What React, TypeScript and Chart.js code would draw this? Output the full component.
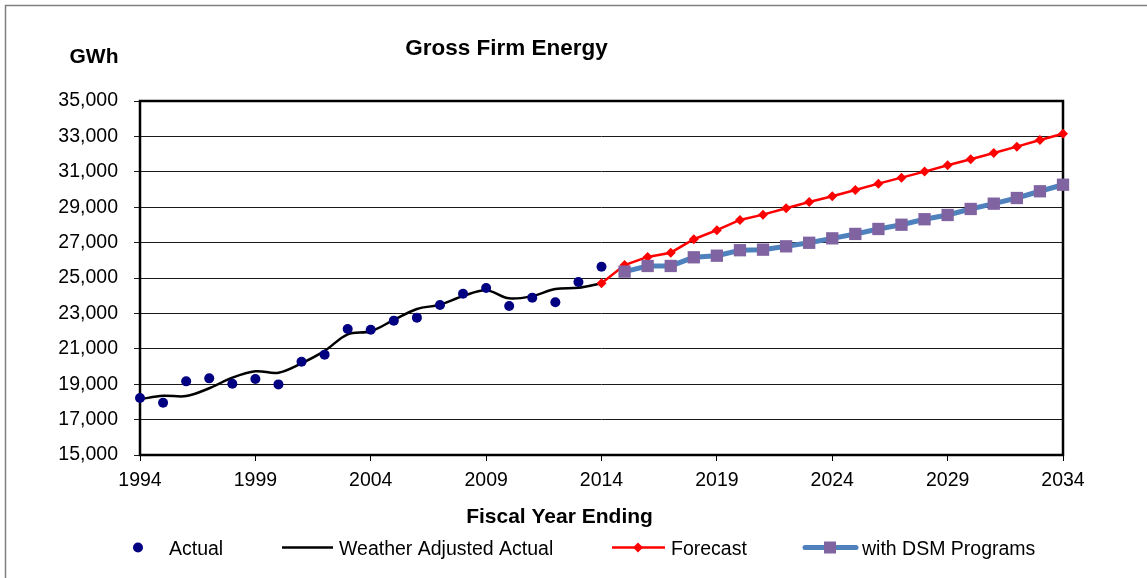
import React, { useEffect, useRef } from 'react';
import { Chart, registerables } from 'chart.js';

Chart.register(...registerables);

const chartTitle = 'Gross Firm Energy';
const yAxisUnit = 'GWh';
const xAxisTitle = 'Fiscal Year Ending';

const xTickValues = [1994, 1999, 2004, 2009, 2014, 2019, 2024, 2029, 2034];
const yTickValues = [15000, 17000, 19000, 21000, 23000, 25000, 27000, 29000, 31000, 33000, 35000];

const actualYears = [1994, 1995, 1996, 1997, 1998, 1999, 2000, 2001, 2002, 2003, 2004, 2005, 2006, 2007, 2008, 2009, 2010, 2011, 2012, 2013, 2014];
const actualValues = [18220, 17950, 19160, 19330, 19030, 19290, 18990, 20270, 20670, 22120, 22080, 22590, 22760, 23470, 24110, 24430, 23420, 23890, 23630, 24770, 25640];

const weatherYears = [1994, 1995, 1996, 1997, 1998, 1999, 2000, 2001, 2002, 2003, 2004, 2005, 2006, 2007, 2008, 2009, 2010, 2011, 2012, 2013, 2014];
const weatherValues = [18150, 18350, 18330, 18770, 19370, 19730, 19650, 20180, 20880, 21820, 21990, 22630, 23250, 23490, 23980, 24310, 23850, 23980, 24380, 24450, 24700];

const forecastYears = [2014, 2015, 2016, 2017, 2018, 2019, 2020, 2021, 2022, 2023, 2024, 2025, 2026, 2027, 2028, 2029, 2030, 2031, 2032, 2033, 2034];
const forecastValues = [24700, 25730, 26190, 26430, 27190, 27700, 28280, 28580, 28940, 29290, 29620, 29970, 30330, 30670, 31010, 31370, 31710, 32060, 32420, 32800, 33150];

const dsmYears = [2015, 2016, 2017, 2018, 2019, 2020, 2021, 2022, 2023, 2024, 2025, 2026, 2027, 2028, 2029, 2030, 2031, 2032, 2033, 2034];
const dsmValues = [25360, 25680, 25680, 26170, 26260, 26570, 26600, 26790, 26990, 27240, 27490, 27770, 28010, 28320, 28560, 28900, 29200, 29520, 29900, 30270];

const seriesNames = ['Actual', 'Weather Adjusted Actual', 'Forecast', 'with DSM Programs'];

const FONT = '"Liberation Sans", Arial, sans-serif';
const NAVY = '#000080';
const RED = '#FF0000';
const DSM_LINE = '#4F81BD';
const DSM_MARK = '#8064A2';

const toPoints = (xs: number[], ys: number[]) => xs.map((x, i) => ({ x, y: ys[i] }));

const decorPlugin = {
  id: 'decor',
  beforeDatasetsDraw(chart: any) {
    const { ctx, chartArea } = chart;
    ctx.save();
    ctx.strokeStyle = '#000';
    ctx.lineWidth = 2.5;
    ctx.strokeRect(chartArea.left, chartArea.top, chartArea.right - chartArea.left, chartArea.bottom - chartArea.top);
    ctx.restore();
  },
  afterDraw(chart: any) {
    const { ctx } = chart;
    ctx.save();
    // outer border
    ctx.strokeStyle = '#808080';
    ctx.lineWidth = 1.5;
    ctx.strokeRect(5.5, 5.5, 1160, 600);

    ctx.fillStyle = '#000';
    ctx.textBaseline = 'middle';
    ctx.textAlign = 'center';
    ctx.font = `bold 22.5px ${FONT}`;
    ctx.fillText(chartTitle, 506.5, 49);
    ctx.font = `bold 21px ${FONT}`;
    ctx.fillText(yAxisUnit, 94, 57);
    ctx.fillText(xAxisTitle, 559.5, 517);

    // legend
    const ly = 547.5;
    const ty = ly + 2;
    ctx.font = `19.5px ${FONT}`;
    ctx.textAlign = 'left';
    // Actual
    ctx.fillStyle = NAVY;
    ctx.beginPath();
    ctx.arc(138, ly, 5, 0, Math.PI * 2);
    ctx.fill();
    ctx.fillStyle = '#000';
    ctx.fillText(seriesNames[0], 169, ty);
    // Weather adjusted
    ctx.strokeStyle = '#000';
    ctx.lineWidth = 2.5;
    ctx.beginPath();
    ctx.moveTo(282, ly);
    ctx.lineTo(333, ly);
    ctx.stroke();
    ctx.fillText(seriesNames[1], 339, ty);
    // Forecast
    ctx.strokeStyle = RED;
    ctx.beginPath();
    ctx.moveTo(612, ly);
    ctx.lineTo(665, ly);
    ctx.stroke();
    ctx.fillStyle = RED;
    ctx.beginPath();
    ctx.moveTo(638, ly - 5);
    ctx.lineTo(643, ly);
    ctx.lineTo(638, ly + 5);
    ctx.lineTo(633, ly);
    ctx.closePath();
    ctx.fill();
    ctx.fillStyle = '#000';
    ctx.fillText(seriesNames[2], 671, ty);
    // DSM
    ctx.strokeStyle = DSM_LINE;
    ctx.lineWidth = 5;
    ctx.lineCap = 'round';
    ctx.beginPath();
    ctx.moveTo(805, ly);
    ctx.lineTo(856, ly);
    ctx.stroke();
    ctx.fillStyle = DSM_MARK;
    ctx.fillRect(824, ly - 6, 12, 12);
    ctx.fillStyle = '#000';
    ctx.fillText(seriesNames[3], 862, ty);
    ctx.restore();
  },
};

export default function App() {
  const canvasRef = useRef<HTMLCanvasElement | null>(null);

  useEffect(() => {
    if (!canvasRef.current) return;
    const chart = new Chart(canvasRef.current, {
      type: 'line',
      data: {
        datasets: [
          {
            label: seriesNames[0],
            data: toPoints(actualYears, actualValues),
            showLine: false,
            pointStyle: 'circle',
            pointRadius: 5,
            pointBackgroundColor: NAVY,
            pointBorderColor: NAVY,
            pointBorderWidth: 0,
            borderColor: NAVY,
            clip: false,
            order: 0,
          },
          {
            label: seriesNames[3],
            data: toPoints(dsmYears, dsmValues),
            borderColor: DSM_LINE,
            borderWidth: 5,
            pointStyle: 'rect',
            pointRadius: 8.7,
            pointBackgroundColor: DSM_MARK,
            pointBorderColor: DSM_MARK,
            pointBorderWidth: 0,
            tension: 0,
            clip: false,
            order: 1,
          },
          {
            label: seriesNames[2],
            data: toPoints(forecastYears, forecastValues),
            borderColor: RED,
            borderWidth: 2.5,
            pointStyle: 'rectRot',
            pointRadius: 5,
            pointBackgroundColor: RED,
            pointBorderColor: RED,
            pointBorderWidth: 0,
            tension: 0,
            clip: false,
            order: 2,
          },
          {
            label: seriesNames[1],
            data: toPoints(weatherYears, weatherValues),
            borderColor: '#000',
            borderWidth: 2.5,
            pointRadius: 0,
            tension: 0.35,
            clip: false,
            order: 3,
          },
        ],
      },
      options: {
        animation: false,
        responsive: false,
        devicePixelRatio: 1,
        layout: { padding: { left: 0, top: 101, right: 84, bottom: 0 } },
        plugins: {
          legend: { display: false },
          title: { display: false },
          tooltip: { enabled: false },
        },
        scales: {
          x: {
            type: 'linear',
            min: 1994,
            max: 2034,
            afterFit: (s: any) => { s.height = 123; },
            afterBuildTicks: (s: any) => { s.ticks = xTickValues.map((v) => ({ value: v })); },
            ticks: {
              autoSkip: false,
              maxRotation: 0,
              color: '#000',
              padding: 8,
              font: { family: FONT, size: 19.5 },
              callback: (v: any) => String(v),
            },
            grid: { drawOnChartArea: false, drawTicks: true, tickLength: 6, color: '#000', lineWidth: 1 },
            border: { display: false },
          },
          y: {
            type: 'linear',
            min: 15000,
            max: 35000,
            afterFit: (s: any) => { s.width = 140; },
            afterBuildTicks: (s: any) => { s.ticks = yTickValues.map((v) => ({ value: v })); },
            ticks: {
              color: '#000',
              padding: 16,
              font: { family: FONT, size: 19.5 },
              callback: (v: any) => Number(v).toLocaleString('en-US'),
            },
            grid: { drawOnChartArea: true, drawTicks: true, tickLength: 6, color: '#1a1a1a', lineWidth: 1 },
            border: { display: false },
          },
        },
      },
      plugins: [decorPlugin],
    });
    return () => chart.destroy();
  }, []);

  return (
    <div style={{ position: 'fixed', left: 0, top: 0, width: 1147, height: 578, background: '#fff' }}>
      <canvas ref={canvasRef} width={1147} height={578} style={{ display: 'block', width: 1147, height: 578 }} />
    </div>
  );
}
